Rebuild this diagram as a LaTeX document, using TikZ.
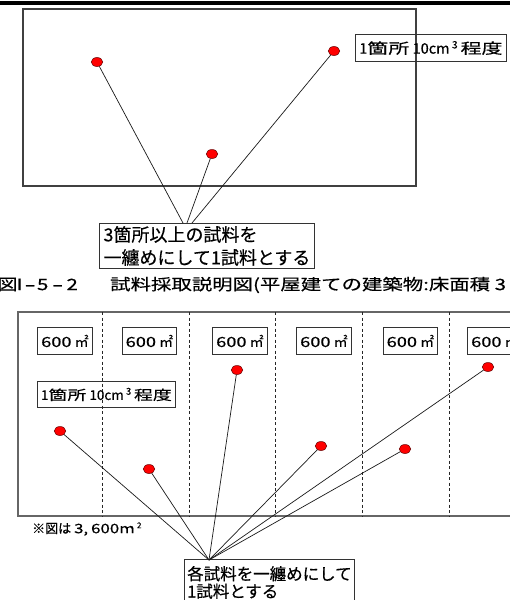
\documentclass[tikz,border=0pt]{standalone}
\usepackage{fontspec}
\usepackage{graphicx}
\setmainfont{Noto Sans CJK JP}[FakeBold=0.4]
\newfontfamily\jp{Noto Sans CJK JP}[FakeBold=0.4]
\newfontfamily\jpw{Noto Sans CJK JP}[FakeStretch=1.3,FakeBold=0.4]
\newfontfamily\jpl{Noto Sans CJK JP}[FakeStretch=1.4,FakeBold=0.4]
\newfontfamily\jpk{Noto Sans CJK JP}[FakeStretch=1.45,FakeBold=0.4]
\newfontfamily\jpcap{Noto Sans CJK JP}[FakeStretch=1.3,FakeBold=0.4]
\usetikzlibrary{shapes.geometric}
\begin{document}
\begin{tikzpicture}[x=1pt,y=-1pt,
  frame/.style={draw=black!75,line width=1.1pt},
  framegray/.style={draw=black!60,line width=1.6pt},
  divider/.style={draw=black!85,line width=0.8pt,dash pattern=on 3pt off 2.5pt},
  box/.style={draw=black!80,line width=0.9pt,inner sep=0pt,anchor=north west},
  reddot/.style={ellipse,fill=red,draw=red!40!black,line width=0.5pt,minimum width=11.5pt,minimum height=9pt,inner sep=0pt},
  conn/.style={draw=black!90,line width=0.7pt},
  area/.style={box,minimum width=55pt,minimum height=27pt,font=\fontsize{14}{16}\selectfont},
]
\useasboundingbox (0,0) rectangle (510,600);
\clip (0,0) rectangle (510,600);
\fill[black] (0,1) rectangle (510,5);

% ---- upper figure ----
\draw[frame] (23,9) rectangle (416,186);
\node[box,minimum width=151pt,minimum height=27pt,font=\fontsize{14.5}{17}\selectfont] (lblA) at (355,34)
  {{\jp 1}{\jpk 箇所} {\jp 10cm}\,\textsuperscript{\jp 3}\,{\jpk 程度}};
\node[reddot] (a1) at (97,62) {};
\node[reddot] (a2) at (212,154) {};
\node[reddot] (a3) at (334,51) {};
\node[box,minimum width=215pt,minimum height=45pt,align=left,
  font=\jp\fontsize{18}{23}\selectfont] (sumA) at (99,223) {3箇所以上の試料を\\一纏めにして1試料とする};
\coordinate (ca1) at (183,223);
\coordinate (ca2) at (187,223);
\coordinate (ca3) at (192,223);
\draw[conn] (a1) -- (ca1);
\draw[conn] (a2) -- (ca2);
\draw[conn] (a3) -- (ca3);

% ---- caption ----
\node[anchor=west,inner sep=0pt,font=\jpcap\fontsize{15.7}{18}\selectfont] (cap) at (-3,285)
  {\makebox[20pt][l]{図}\makebox[5pt]{Ⅰ}\makebox[16pt]{\scalebox{1.6}[1]{-}}\makebox[9pt]{5}\makebox[21pt]{\scalebox{1.6}[1]{-}}\makebox[8pt]{2}\hspace{34pt}試料採取説明図(平屋建ての建築物:床面積 3};

% ---- lower figure ----
\draw[framegray] (18,312) rectangle (525,516);
\foreach \x in {102,189,275,362,449} \draw[divider] (\x,312) -- (\x,516);
\node[area] (s1) at (37,327) {{\jpw 600} {\jp ㎡}};
\node[area,minimum width=54pt] (s2) at (122,327) {{\jpw 600} {\jp ㎡}};
\node[area] (s3) at (212,327) {{\jpw 600} {\jp ㎡}};
\node[area] (s4) at (296,327) {{\jpw 600} {\jp ㎡}};
\node[area,minimum width=54pt] (s5) at (383,327) {{\jpw 600} {\jp ㎡}};
\node[area] (s6) at (467,327) {{\jpw 600} {\jp ㎡}};
\node[box,minimum width=138pt,minimum height=26pt,font=\fontsize{13.5}{16}\selectfont] (lblB) at (37,381)
  {{\jp 1}{\jpl 箇所} {\jp 10cm}\,\textsuperscript{\jp 3}\,{\jpl 程度}};
\node[reddot] (b1) at (60,431) {};
\node[reddot] (b2) at (149,469) {};
\node[reddot] (b3) at (237,370) {};
\node[reddot] (b4) at (321,446) {};
\node[reddot] (b5) at (405,449) {};
\node[reddot] (b6) at (488,367) {};
\node[anchor=west,inner sep=0pt,font=\fontsize{13}{15}\selectfont] (note) at (32,529)
  {{\jp ※図は} {\jpw 3,} {\jpw 600m}\,\raisebox{5pt}{\jp\fontsize{8}{8}\selectfont 2}};
\node[box,minimum width=170pt,minimum height=46pt,align=left,
  font=\jp\fontsize{16.5}{17.5}\selectfont] (sumB) at (184,559) {各試料を一纏めにして\\1試料とする};
\coordinate (cb) at (209,560);
\foreach \d in {b1,b2,b3,b4,b5,b6} \draw[conn] (\d) -- (cb);
\end{tikzpicture}
\end{document}
